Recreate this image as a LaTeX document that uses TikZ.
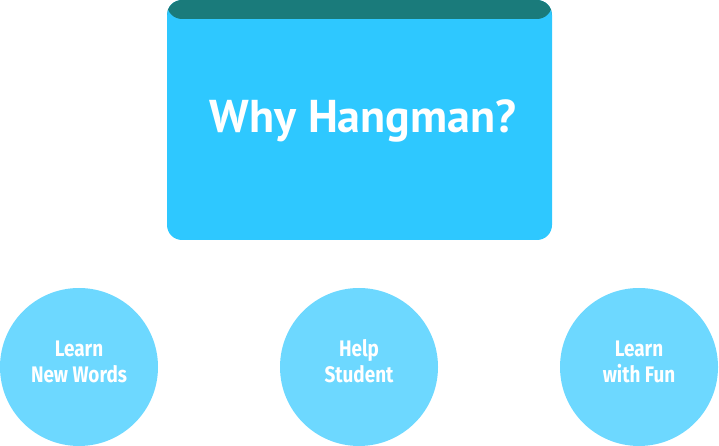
\documentclass[tikz,border=0pt]{standalone}
\usepackage{fontspec}
\setmainfont{PT Sans}
\newfontfamily\circfont[FakeStretch=0.84]{Fira Sans}
\usepackage{tikz}
\usetikzlibrary{calc}
\definecolor{hangteal}{RGB}{26,123,123}
\definecolor{hangblue}{RGB}{46,200,255}
\definecolor{hanglight}{RGB}{109,216,255}
\tikzset{
	whybox/.style={draw=none, fill=hangblue, rounded corners=15pt, minimum width=385pt, minimum height=240pt, inner sep=0pt,
		path picture={\fill[hangteal] (path picture bounding box.north west) rectangle ([yshift=-19pt]path picture bounding box.north east);}},
	whytitle/.style={text=white, inner sep=0pt, font=\fontsize{46}{50}\selectfont\bfseries},
	reason/.style={circle, draw=none, fill=hanglight, minimum size=158pt, inner sep=0pt, text=white, align=center, font=\circfont\fontsize{22.5}{26}\selectfont\bfseries}
}
\begin{document}
\begin{tikzpicture}[x=1pt, y=1pt]
			%%%%% START %%%%%
			
			\useasboundingbox (0, 0) rectangle (719, 446);
			
			\node[whybox] (why) at (359.5, 326) {};
			\node[whytitle, anchor=base] (whytext) at (363, 313) {Why Hangman?};
			
			\node[reason] (words) at (79, 79) {};
			\node[reason] (help) at (359, 79) {};
			\node[reason] (fun) at (639, 79) {};
			
			\node[reason, fill=none, anchor=base] (wordstext) at (79, 63) {Learn\\New Words};
			\node[reason, fill=none, anchor=base] (helptext) at (359, 63) {Help\\Student};
			\node[reason, fill=none, anchor=base] (funtext) at (639, 63) {Learn\\with Fun};
			
			%%%%% END %%%%%
		\end{tikzpicture}
\end{document}
